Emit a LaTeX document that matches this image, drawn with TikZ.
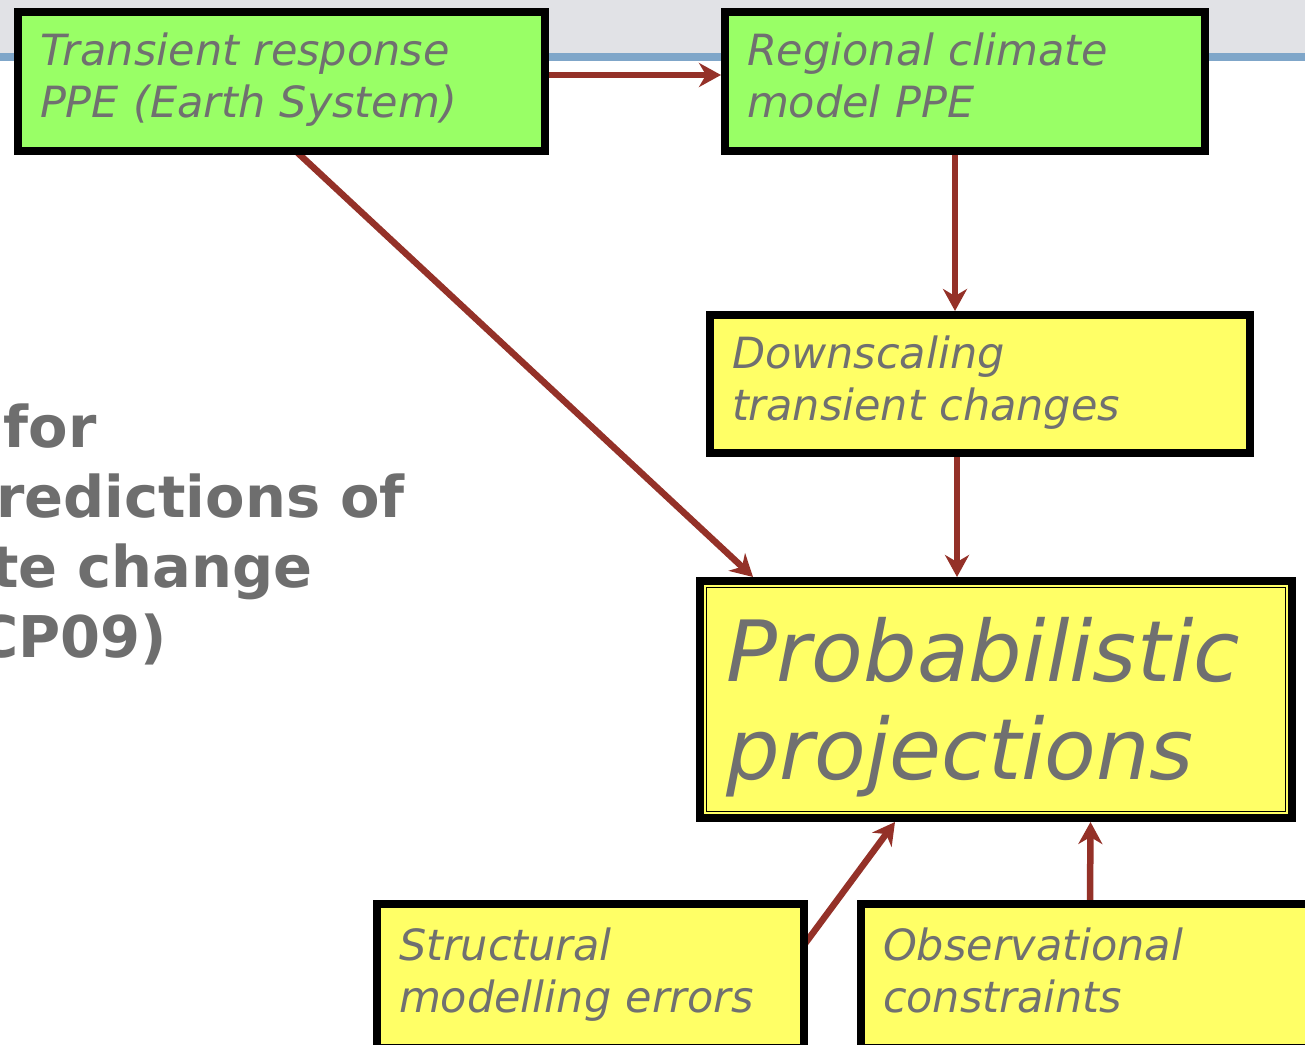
\documentclass[tikz,border=0pt]{standalone}
\usepackage{fontspec}
\setmainfont{DejaVu Sans}
\usetikzlibrary{arrows.meta}
\definecolor{boxgreen}{HTML}{99FF66}
\definecolor{boxyellow}{HTML}{FFFF66}
\definecolor{txtgray}{HTML}{707070}
\definecolor{titlegray}{HTML}{6E6E6E}
\definecolor{arrowred}{HTML}{943128}
\definecolor{bandgray}{HTML}{E1E2E6}
\definecolor{bandblue}{HTML}{7FA6C9}
\pgfdeclarelayer{bg}
\pgfsetlayers{bg,main}
\newcommand{\bigstrut}{\rule[-13pt]{0pt}{93pt}}
\tikzset{
  box/.style={draw=black, line width=8pt, inner xsep=22pt, inner ysep=0pt, align=left,
    text=txtgray, font=\fontsize{43}{52}\selectfont\itshape},
  green box/.style={box, fill=boxgreen},
  yellow box/.style={box, fill=boxyellow},
  link/.style={draw=arrowred, line width=6.5pt, -{Stealth[length=22pt,width=24pt,inset=7pt]}},
  title/.style={anchor=base east, text=titlegray, inner sep=0pt,
    font=\fontsize{57.5}{70}\selectfont\bfseries}
}
\begin{document}
\begin{tikzpicture}[x=1pt,y=-1pt]
\useasboundingbox (0,0) rectangle (1305,1044);
\begin{pgfonlayer}{bg}
  \fill[white] (0,0) rectangle (1305,1044);
  \fill[bandgray] (0,0) rectangle (1305,53);
  \fill[bandblue] (0,53) rectangle (1305,61);
\end{pgfonlayer}

\node[title] (l1) at (97,447) {for};
\node[title] (l2) at (405,517) {redictions of};
\node[title] (l3) at (313,587) {te change};
\node[title] (l4) at (167,657) {CP09)};

\node[green box, minimum width=527pt, minimum height=139pt, text width=483pt] (T) at (281.5,81.5)
  {\strut Transient response\\PPE (Earth System)\strut};
\node[green box, minimum width=480pt, minimum height=139pt, text width=436pt] (R) at (965,81.5)
  {\strut Regional climate\\model PPE\strut};
\node[yellow box, minimum width=540pt, minimum height=138pt, text width=496pt] (D) at (980,384)
  {\strut Downscaling\\transient changes\strut};
\node[yellow box, minimum width=592pt, minimum height=237pt, text width=540pt, inner xsep=26pt,
  font=\fontsize{84.5}{98}\selectfont\itshape] (P) at (996,699.5)
  {\bigstrut Probabilistic\\projections\bigstrut};
\draw[line width=1.5pt] ([shift={(10.5,10.5)}]P.north west) rectangle ([shift={(-10.5,-10.5)}]P.south east);
\node[yellow box, minimum width=427pt, minimum height=144pt, text width=383pt] (S) at (590.5,976)
  {\strut Structural\\modelling errors\strut};
\node[yellow box, minimum width=475pt, minimum height=144pt, text width=431pt] (O) at (1098.5,976)
  {\strut Observational\\constraints\strut};

\begin{pgfonlayer}{bg}
  \draw[link] ([yshift=6.5pt]T.east) -- ([yshift=6.5pt]R.west);
  \draw[link] ([xshift=7.8pt,yshift=10pt]T.south) -- ([xshift=57pt]P.north west);
  \draw[link] ([xshift=-10pt]R.south) -- ([xshift=-25pt]D.north);
  \draw[link] ([xshift=-23pt]D.south) -- ([xshift=-39pt]P.north);
  \draw[link] ([xshift=-8pt,yshift=-50.4pt]S.north east) -- ([xshift=-101pt]P.south);
  \draw[link] ([xshift=-8.5pt]O.north) -- ([xshift=94.5pt]P.south);
\end{pgfonlayer}
\end{tikzpicture}
\end{document}
